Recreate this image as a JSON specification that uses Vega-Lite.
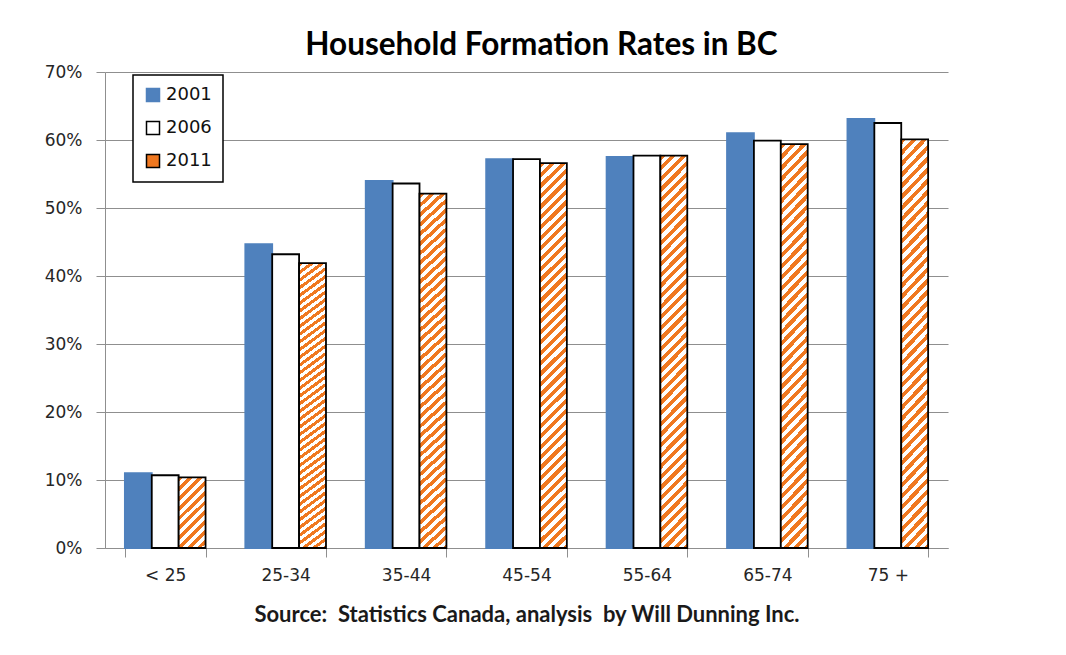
{
  "$schema": "https://vega.github.io/schema/vega-lite/v6.json",
  "width": 843,
  "height": 476,
  "autosize": {"type": "none"},
  "padding": {"left": 105, "top": 72, "right": 118, "bottom": 107},
  "background": "white",
  "title": {
    "text": "Household Formation Rates in BC",
    "font": "Lato",
    "fontSize": 31.5,
    "fontWeight": "bold",
    "color": "#000000",
    "anchor": "middle",
    "frame": "group",
    "dx": 15,
    "dy": 29,
    "offset": 6,
    "baseline": "alphabetic"
  },
  "data": {
    "values": [
      {"age": "< 25", "year": "2001", "rate": 0.110},
      {"age": "< 25", "year": "2006", "rate": 0.107},
      {"age": "< 25", "year": "2011", "rate": 0.104},
      {"age": "25-34", "year": "2001", "rate": 0.447},
      {"age": "25-34", "year": "2006", "rate": 0.432},
      {"age": "25-34", "year": "2011", "rate": 0.419},
      {"age": "35-44", "year": "2001", "rate": 0.540},
      {"age": "35-44", "year": "2006", "rate": 0.536},
      {"age": "35-44", "year": "2011", "rate": 0.521},
      {"age": "45-54", "year": "2001", "rate": 0.572},
      {"age": "45-54", "year": "2006", "rate": 0.572},
      {"age": "45-54", "year": "2011", "rate": 0.566},
      {"age": "55-64", "year": "2001", "rate": 0.575},
      {"age": "55-64", "year": "2006", "rate": 0.577},
      {"age": "55-64", "year": "2011", "rate": 0.577},
      {"age": "65-74", "year": "2001", "rate": 0.610},
      {"age": "65-74", "year": "2006", "rate": 0.599},
      {"age": "65-74", "year": "2011", "rate": 0.594},
      {"age": "75 +", "year": "2001", "rate": 0.631},
      {"age": "75 +", "year": "2006", "rate": 0.625},
      {"age": "75 +", "year": "2011", "rate": 0.601}
    ]
  },
  "mark": {"type": "bar", "strokeWidth": 1.8},
  "encoding": {
    "x": {
      "field": "age",
      "type": "nominal",
      "sort": ["< 25", "25-34", "35-44", "45-54", "55-64", "65-74", "75 +"],
      "scale": {"paddingInner": 0.33, "paddingOuter": 0.165},
      "axis": {
        "title": "Source:\u00a0 Statistics Canada, analysis\u00a0 by Will Dunning Inc.",
        "titleFont": "Lato",
        "titleFontSize": 22,
        "titleFontWeight": "bold",
        "titleColor": "#1a1a1a",
        "titlePadding": 21,
        "labelAngle": 0,
        "labelFont": "DejaVu Sans",
        "labelFontSize": 17,
        "labelColor": "#262626",
        "labelPadding": 10,
        "tickSize": 9,
        "tickColor": "#8f8f8f",
        "domainColor": "#8f8f8f",
        "tickBand": "extent",
        "grid": false
      }
    },
    "xOffset": {
      "field": "year",
      "type": "nominal",
      "sort": ["2001", "2006", "2011"],
      "scale": {"paddingInner": 0, "paddingOuter": 0}
    },
    "y": {
      "field": "rate",
      "type": "quantitative",
      "scale": {"domain": [0, 0.7], "nice": false},
      "axis": {
        "title": null,
        "values": [0, 0.1, 0.2, 0.3, 0.4, 0.5, 0.6, 0.7],
        "format": ".0%",
        "labelFont": "DejaVu Sans",
        "labelFontSize": 17,
        "labelColor": "#262626",
        "labelPadding": 14,
        "tickSize": 9,
        "tickColor": "#8f8f8f",
        "domainColor": "#8f8f8f",
        "grid": true,
        "gridColor": "#8f8f8f"
      }
    },
    "fill": {
      "condition": [
        {
          "test": "datum.year === '2011' && datum.age === '< 25'",
          "value": {
            "gradient": "linear", "x1": 0, "y1": 0, "x2": 0.454, "y2": 1.21,
            "stops": [
              {"offset": 0, "color": "#F07820"}, {"offset": 0.05, "color": "#F07820"}, {"offset": 0.05, "color": "#ffffff"}, {"offset": 0.1, "color": "#ffffff"},
              {"offset": 0.1, "color": "#F07820"}, {"offset": 0.15, "color": "#F07820"}, {"offset": 0.15, "color": "#ffffff"}, {"offset": 0.2, "color": "#ffffff"},
              {"offset": 0.2, "color": "#F07820"}, {"offset": 0.25, "color": "#F07820"}, {"offset": 0.25, "color": "#ffffff"}, {"offset": 0.3, "color": "#ffffff"},
              {"offset": 0.3, "color": "#F07820"}, {"offset": 0.35, "color": "#F07820"}, {"offset": 0.35, "color": "#ffffff"}, {"offset": 0.4, "color": "#ffffff"},
              {"offset": 0.4, "color": "#F07820"}, {"offset": 0.45, "color": "#F07820"}, {"offset": 0.45, "color": "#ffffff"}, {"offset": 0.5, "color": "#ffffff"},
              {"offset": 0.5, "color": "#F07820"}, {"offset": 0.55, "color": "#F07820"}, {"offset": 0.55, "color": "#ffffff"}, {"offset": 0.6, "color": "#ffffff"},
              {"offset": 0.6, "color": "#F07820"}, {"offset": 0.65, "color": "#F07820"}, {"offset": 0.65, "color": "#ffffff"}, {"offset": 0.7, "color": "#ffffff"},
              {"offset": 0.7, "color": "#F07820"}, {"offset": 0.75, "color": "#F07820"}, {"offset": 0.75, "color": "#ffffff"}, {"offset": 0.8, "color": "#ffffff"},
              {"offset": 0.8, "color": "#F07820"}, {"offset": 0.85, "color": "#F07820"}, {"offset": 0.85, "color": "#ffffff"}, {"offset": 0.9, "color": "#ffffff"},
              {"offset": 0.9, "color": "#F07820"}, {"offset": 0.95, "color": "#F07820"}, {"offset": 0.95, "color": "#ffffff"}, {"offset": 1, "color": "#ffffff"}
            ]
          }
        },
        {
          "test": "datum.year === '2011'",
          "value": {
            "gradient": "linear", "x1": 0, "y1": 0, "x2": 0.075, "y2": 1.08,
            "stops": [
              {"offset": 0, "color": "#F07820"}, {"offset": 0.0125, "color": "#F07820"}, {"offset": 0.0125, "color": "#ffffff"}, {"offset": 0.025, "color": "#ffffff"},
              {"offset": 0.025, "color": "#F07820"}, {"offset": 0.0375, "color": "#F07820"}, {"offset": 0.0375, "color": "#ffffff"}, {"offset": 0.05, "color": "#ffffff"},
              {"offset": 0.05, "color": "#F07820"}, {"offset": 0.0625, "color": "#F07820"}, {"offset": 0.0625, "color": "#ffffff"}, {"offset": 0.075, "color": "#ffffff"},
              {"offset": 0.075, "color": "#F07820"}, {"offset": 0.0875, "color": "#F07820"}, {"offset": 0.0875, "color": "#ffffff"}, {"offset": 0.1, "color": "#ffffff"},
              {"offset": 0.1, "color": "#F07820"}, {"offset": 0.1125, "color": "#F07820"}, {"offset": 0.1125, "color": "#ffffff"}, {"offset": 0.125, "color": "#ffffff"},
              {"offset": 0.125, "color": "#F07820"}, {"offset": 0.1375, "color": "#F07820"}, {"offset": 0.1375, "color": "#ffffff"}, {"offset": 0.15, "color": "#ffffff"},
              {"offset": 0.15, "color": "#F07820"}, {"offset": 0.1625, "color": "#F07820"}, {"offset": 0.1625, "color": "#ffffff"}, {"offset": 0.175, "color": "#ffffff"},
              {"offset": 0.175, "color": "#F07820"}, {"offset": 0.1875, "color": "#F07820"}, {"offset": 0.1875, "color": "#ffffff"}, {"offset": 0.2, "color": "#ffffff"},
              {"offset": 0.2, "color": "#F07820"}, {"offset": 0.2125, "color": "#F07820"}, {"offset": 0.2125, "color": "#ffffff"}, {"offset": 0.225, "color": "#ffffff"},
              {"offset": 0.225, "color": "#F07820"}, {"offset": 0.2375, "color": "#F07820"}, {"offset": 0.2375, "color": "#ffffff"}, {"offset": 0.25, "color": "#ffffff"},
              {"offset": 0.25, "color": "#F07820"}, {"offset": 0.2625, "color": "#F07820"}, {"offset": 0.2625, "color": "#ffffff"}, {"offset": 0.275, "color": "#ffffff"},
              {"offset": 0.275, "color": "#F07820"}, {"offset": 0.2875, "color": "#F07820"}, {"offset": 0.2875, "color": "#ffffff"}, {"offset": 0.3, "color": "#ffffff"},
              {"offset": 0.3, "color": "#F07820"}, {"offset": 0.3125, "color": "#F07820"}, {"offset": 0.3125, "color": "#ffffff"}, {"offset": 0.325, "color": "#ffffff"},
              {"offset": 0.325, "color": "#F07820"}, {"offset": 0.3375, "color": "#F07820"}, {"offset": 0.3375, "color": "#ffffff"}, {"offset": 0.35, "color": "#ffffff"},
              {"offset": 0.35, "color": "#F07820"}, {"offset": 0.3625, "color": "#F07820"}, {"offset": 0.3625, "color": "#ffffff"}, {"offset": 0.375, "color": "#ffffff"},
              {"offset": 0.375, "color": "#F07820"}, {"offset": 0.3875, "color": "#F07820"}, {"offset": 0.3875, "color": "#ffffff"}, {"offset": 0.4, "color": "#ffffff"},
              {"offset": 0.4, "color": "#F07820"}, {"offset": 0.4125, "color": "#F07820"}, {"offset": 0.4125, "color": "#ffffff"}, {"offset": 0.425, "color": "#ffffff"},
              {"offset": 0.425, "color": "#F07820"}, {"offset": 0.4375, "color": "#F07820"}, {"offset": 0.4375, "color": "#ffffff"}, {"offset": 0.45, "color": "#ffffff"},
              {"offset": 0.45, "color": "#F07820"}, {"offset": 0.4625, "color": "#F07820"}, {"offset": 0.4625, "color": "#ffffff"}, {"offset": 0.475, "color": "#ffffff"},
              {"offset": 0.475, "color": "#F07820"}, {"offset": 0.4875, "color": "#F07820"}, {"offset": 0.4875, "color": "#ffffff"}, {"offset": 0.5, "color": "#ffffff"},
              {"offset": 0.5, "color": "#F07820"}, {"offset": 0.5125, "color": "#F07820"}, {"offset": 0.5125, "color": "#ffffff"}, {"offset": 0.525, "color": "#ffffff"},
              {"offset": 0.525, "color": "#F07820"}, {"offset": 0.5375, "color": "#F07820"}, {"offset": 0.5375, "color": "#ffffff"}, {"offset": 0.55, "color": "#ffffff"},
              {"offset": 0.55, "color": "#F07820"}, {"offset": 0.5625, "color": "#F07820"}, {"offset": 0.5625, "color": "#ffffff"}, {"offset": 0.575, "color": "#ffffff"},
              {"offset": 0.575, "color": "#F07820"}, {"offset": 0.5875, "color": "#F07820"}, {"offset": 0.5875, "color": "#ffffff"}, {"offset": 0.6, "color": "#ffffff"},
              {"offset": 0.6, "color": "#F07820"}, {"offset": 0.6125, "color": "#F07820"}, {"offset": 0.6125, "color": "#ffffff"}, {"offset": 0.625, "color": "#ffffff"},
              {"offset": 0.625, "color": "#F07820"}, {"offset": 0.6375, "color": "#F07820"}, {"offset": 0.6375, "color": "#ffffff"}, {"offset": 0.65, "color": "#ffffff"},
              {"offset": 0.65, "color": "#F07820"}, {"offset": 0.6625, "color": "#F07820"}, {"offset": 0.6625, "color": "#ffffff"}, {"offset": 0.675, "color": "#ffffff"},
              {"offset": 0.675, "color": "#F07820"}, {"offset": 0.6875, "color": "#F07820"}, {"offset": 0.6875, "color": "#ffffff"}, {"offset": 0.7, "color": "#ffffff"},
              {"offset": 0.7, "color": "#F07820"}, {"offset": 0.7125, "color": "#F07820"}, {"offset": 0.7125, "color": "#ffffff"}, {"offset": 0.725, "color": "#ffffff"},
              {"offset": 0.725, "color": "#F07820"}, {"offset": 0.7375, "color": "#F07820"}, {"offset": 0.7375, "color": "#ffffff"}, {"offset": 0.75, "color": "#ffffff"},
              {"offset": 0.75, "color": "#F07820"}, {"offset": 0.7625, "color": "#F07820"}, {"offset": 0.7625, "color": "#ffffff"}, {"offset": 0.775, "color": "#ffffff"},
              {"offset": 0.775, "color": "#F07820"}, {"offset": 0.7875, "color": "#F07820"}, {"offset": 0.7875, "color": "#ffffff"}, {"offset": 0.8, "color": "#ffffff"},
              {"offset": 0.8, "color": "#F07820"}, {"offset": 0.8125, "color": "#F07820"}, {"offset": 0.8125, "color": "#ffffff"}, {"offset": 0.825, "color": "#ffffff"},
              {"offset": 0.825, "color": "#F07820"}, {"offset": 0.8375, "color": "#F07820"}, {"offset": 0.8375, "color": "#ffffff"}, {"offset": 0.85, "color": "#ffffff"},
              {"offset": 0.85, "color": "#F07820"}, {"offset": 0.8625, "color": "#F07820"}, {"offset": 0.8625, "color": "#ffffff"}, {"offset": 0.875, "color": "#ffffff"},
              {"offset": 0.875, "color": "#F07820"}, {"offset": 0.8875, "color": "#F07820"}, {"offset": 0.8875, "color": "#ffffff"}, {"offset": 0.9, "color": "#ffffff"},
              {"offset": 0.9, "color": "#F07820"}, {"offset": 0.9125, "color": "#F07820"}, {"offset": 0.9125, "color": "#ffffff"}, {"offset": 0.925, "color": "#ffffff"},
              {"offset": 0.925, "color": "#F07820"}, {"offset": 0.9375, "color": "#F07820"}, {"offset": 0.9375, "color": "#ffffff"}, {"offset": 0.95, "color": "#ffffff"},
              {"offset": 0.95, "color": "#F07820"}, {"offset": 0.9625, "color": "#F07820"}, {"offset": 0.9625, "color": "#ffffff"}, {"offset": 0.975, "color": "#ffffff"},
              {"offset": 0.975, "color": "#F07820"}, {"offset": 0.9875, "color": "#F07820"}, {"offset": 0.9875, "color": "#ffffff"}, {"offset": 1, "color": "#ffffff"}
            ]
          }
        }
      ],
      "field": "year",
      "type": "nominal",
      "sort": ["2001", "2006", "2011"],
      "scale": {
        "domain": ["2001", "2006", "2011"],
        "range": ["#4F81BD", "#ffffff", "#F07820"]
      },
      "legend": {
        "title": null,
        "orient": "none",
        "legendX": 28,
        "legendY": 3,
        "direction": "vertical",
        "strokeColor": "#000000",
        "fillColor": "#ffffff",
        "padding": 11,
        "rowPadding": 13,
        "symbolType": "square",
        "symbolSize": 169,
        "symbolStrokeWidth": 1.5,
        "labelFont": "DejaVu Sans",
        "labelFontSize": 18,
        "labelColor": "#111111",
        "labelOffset": 4,
        "encode": {
          "legend": {"update": {"strokeWidth": {"value": 1.5}}},
          "symbols": {
            "update": {
              "fill": [
                {
                  "test": "datum.value === '2011'",
                  "value": {
                    "gradient": "linear", "x1": 1, "y1": 0, "x2": 0, "y2": 1,
                    "stops": [
                      {"offset": 0, "color": "#ffffff"}, {"offset": 0.62, "color": "#ffffff"},
                      {"offset": 0.62, "color": "#F07820"}, {"offset": 1, "color": "#F07820"}
                    ]
                  }
                },
                {"scale": "fill", "field": "value"}
              ]
            }
          }
        }
      }
    },
    "stroke": {
      "field": "year",
      "type": "nominal",
      "sort": ["2001", "2006", "2011"],
      "scale": {"domain": ["2001", "2006", "2011"], "range": ["#4F81BD", "#000000", "#000000"]},
      "legend": {
        "title": null,
        "orient": "none",
        "legendX": 28,
        "legendY": 3,
        "direction": "vertical",
        "strokeColor": "#000000",
        "fillColor": "#ffffff",
        "padding": 11,
        "rowPadding": 13,
        "symbolType": "square",
        "symbolSize": 169,
        "symbolStrokeWidth": 1.5,
        "labelFont": "DejaVu Sans",
        "labelFontSize": 18,
        "labelColor": "#111111",
        "labelOffset": 4
      }
    }
  },
  "config": {
    "view": {"stroke": null},
    "axis": {"domainWidth": 1, "tickWidth": 1, "gridWidth": 1}
  }
}
